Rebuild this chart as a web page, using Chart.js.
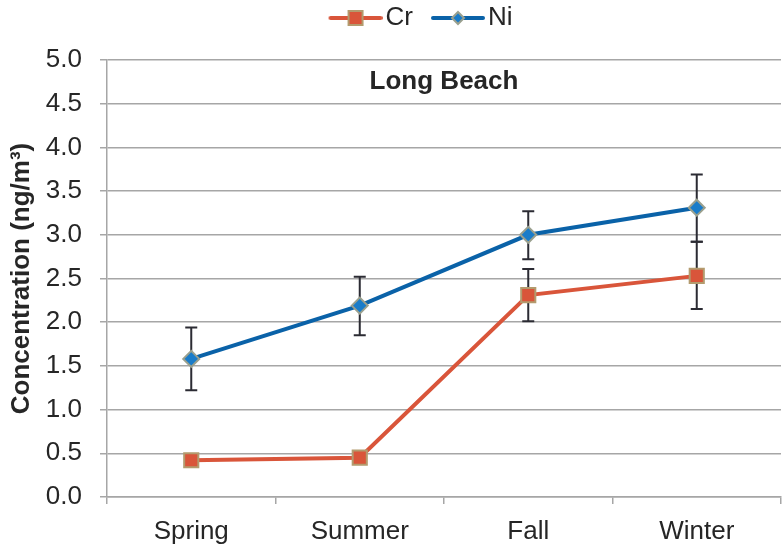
<!DOCTYPE html>
<html>
<head>
<meta charset="utf-8">
<script src="https://cdn.jsdelivr.net/npm/chart.js@4.4.0/dist/chart.umd.min.js"></script>
<style>
  html, body { margin: 0; padding: 0; background: #ffffff; overflow: hidden; }
  #wrap { width: 782px; height: 547px; }
  #grafico { display: block; }
</style>
</head>
<body>
<div id="wrap"><canvas id="grafico"></canvas></div>
<script>
var estacoes = ["Spring", "Summer", "Fall", "Winter"];
var valoresCr = [0.42, 0.45, 2.31, 2.53];
var erroCrMin = [null, null, 2.01, 2.15];
var erroCrMax = [null, null, 2.61, 2.92];
var valoresNi = [1.58, 2.19, 3.00, 3.31];
var erroNiMin = [1.22, 1.85, 2.72, 2.92];
var erroNiMax = [1.94, 2.52, 3.27, 3.69];
var ticksY = [0.0, 0.5, 1.0, 1.5, 2.0, 2.5, 3.0, 3.5, 4.0, 4.5, 5.0];

var corTexto = "#262626";
var corGrade = "#a6a6a6";
var fonte = "'Liberation Sans', Arial, sans-serif";
Chart.defaults.font.family = fonte;
Chart.defaults.color = corTexto;

// icones da legenda (linha + marcador), desenho encostado na direita
function criarIcone(corLinha, corMarca, corBorda, forma) {
    var c = document.createElement("canvas");
    c.width = 64; c.height = 20;
    var g = c.getContext("2d");
    g.strokeStyle = corLinha;
    g.lineWidth = 4;
    g.lineCap = "round";
    g.beginPath(); g.moveTo(12, 10); g.lineTo(62, 10); g.stroke();
    g.fillStyle = corMarca;
    g.strokeStyle = corBorda;
    g.lineWidth = 2;
    g.beginPath();
    if (forma == "quadrado") {
        g.rect(30, 3, 14, 14);
    } else {
        g.moveTo(37, 4); g.lineTo(43, 10); g.lineTo(37, 16); g.lineTo(31, 10); g.closePath();
    }
    g.fill(); g.stroke();
    return c;
}
var iconeCr = criarIcone("#d9553a", "#d9553a", "#b39b6e", "quadrado");
var iconeNi = criarIcone("#0a62a8", "#1a7cc9", "#9aa08e", "losango");

var barrasErro = {
    id: "barrasErro",
    beforeDatasetsDraw: function (chart) {
        var ctx = chart.ctx;
        var x = chart.scales.x, y = chart.scales.y;
        var series = [[erroCrMin, erroCrMax], [erroNiMin, erroNiMax]];
        ctx.save();
        ctx.strokeStyle = "#2b2b33";
        ctx.lineWidth = 2;
        for (var s = 0; s < series.length; s++) {
            for (var i = 0; i < estacoes.length; i++) {
                var lo = series[s][0][i], hi = series[s][1][i];
                if (lo == null) continue;
                var px = x.getPixelForValue(i);
                var p1 = y.getPixelForValue(lo), p2 = y.getPixelForValue(hi);
                ctx.beginPath();
                ctx.moveTo(px, p1); ctx.lineTo(px, p2);
                ctx.moveTo(px - 6, p1); ctx.lineTo(px + 6, p1);
                ctx.moveTo(px - 6, p2); ctx.lineTo(px + 6, p2);
                ctx.stroke();
            }
        }
        ctx.restore();
    }
};

var tituloInterno = {
    id: "tituloInterno",
    afterDraw: function (chart) {
        var ctx = chart.ctx, area = chart.chartArea;
        ctx.save();
        ctx.font = "bold 26px " + fonte;
        ctx.fillStyle = corTexto;
        ctx.textAlign = "center";
        ctx.textBaseline = "middle";
        ctx.fillText("Long Beach", (area.left + area.right) / 2, area.top + 22);
        ctx.restore();
    }
};

// legenda mais alta (empurra a area do grafico) e deslocada para a direita
var ajusteLegenda = {
    id: "ajusteLegenda",
    beforeLayout: function (chart) {
        var lg = chart.legend;
        if (!lg || lg._fitOriginal) return;
        lg._fitOriginal = lg.fit;
        lg._drawOriginal = lg.draw;
        lg.fit = function () {
            lg._fitOriginal.call(lg);
            lg.height = 73;
        };
        lg.draw = function () {
            chart.ctx.save();
            chart.ctx.translate(30, 0);
            lg._drawOriginal.call(lg);
            chart.ctx.restore();
        };
    }
};

new Chart(document.getElementById("grafico"), {
    type: "line",
    data: {
        labels: estacoes,
        datasets: [{
            label: "Cr",
            data: valoresCr,
            borderColor: "#d9553a",
            borderWidth: 4,
            pointStyle: "rect",
            pointRadius: 10,
            pointBackgroundColor: "#d9553a",
            pointBorderColor: "#b39b6e",
            pointBorderWidth: 2,
            tension: 0
        },
        {
            label: "Ni",
            data: valoresNi,
            borderColor: "#0a62a8",
            borderWidth: 4,
            pointStyle: "rectRot",
            pointRadius: 8,
            pointBackgroundColor: "#1a7cc9",
            pointBorderColor: "#9aa08e",
            pointBorderWidth: 2,
            tension: 0
        }]
    },
    options: {
        responsive: true,
        maintainAspectRatio: false,
        animation: false,
        layout: { autoPadding: false, padding: { top: -13, right: 1 } },
        plugins: {
            legend: {
                position: "top",
                labels: {
                    usePointStyle: true,
                    pointStyleWidth: 44,
                    boxHeight: 26,
                    padding: 18,
                    font: { size: 26 },
                    color: corTexto,
                    generateLabels: function (chart) {
                        var itens = Chart.defaults.plugins.legend.labels.generateLabels(chart);
                        itens[0].pointStyle = iconeCr;
                        itens[1].pointStyle = iconeNi;
                        return itens;
                    }
                }
            },
            tooltip: { enabled: false }
        },
        scales: {
            x: {
                offset: true,
                grid: { offset: true, drawOnChartArea: false, color: corGrade, tickLength: 7, lineWidth: 1.5 },
                border: { color: corGrade, width: 1.5 },
                ticks: { font: { size: 26 }, color: corTexto, padding: 12 },
                afterFit: function (scale) {
                    scale.height = 50;
                    scale.paddingLeft = 0;
                    scale.paddingRight = 0;
                }
            },
            y: {
                min: 0,
                max: 5,
                afterBuildTicks: function (scale) {
                    scale.ticks = ticksY.map(function (v) { return { value: v }; });
                },
                grid: { color: corGrade, tickLength: 7, lineWidth: 1.5 },
                border: { color: corGrade, width: 1.5 },
                ticks: {
                    font: { size: 26 },
                    color: corTexto,
                    padding: 18,
                    callback: function (v) { return Number(v).toFixed(1); }
                },
                title: {
                    display: true,
                    text: "Concentration (ng/m³)",
                    font: { size: 26, weight: "bold" },
                    color: corTexto,
                    padding: { top: 6, bottom: 0 }
                },
                afterFit: function (scale) { scale.width = 107; }
            }
        }
    },
    plugins: [barrasErro, tituloInterno, ajusteLegenda]
});
</script>
</body>
</html>
